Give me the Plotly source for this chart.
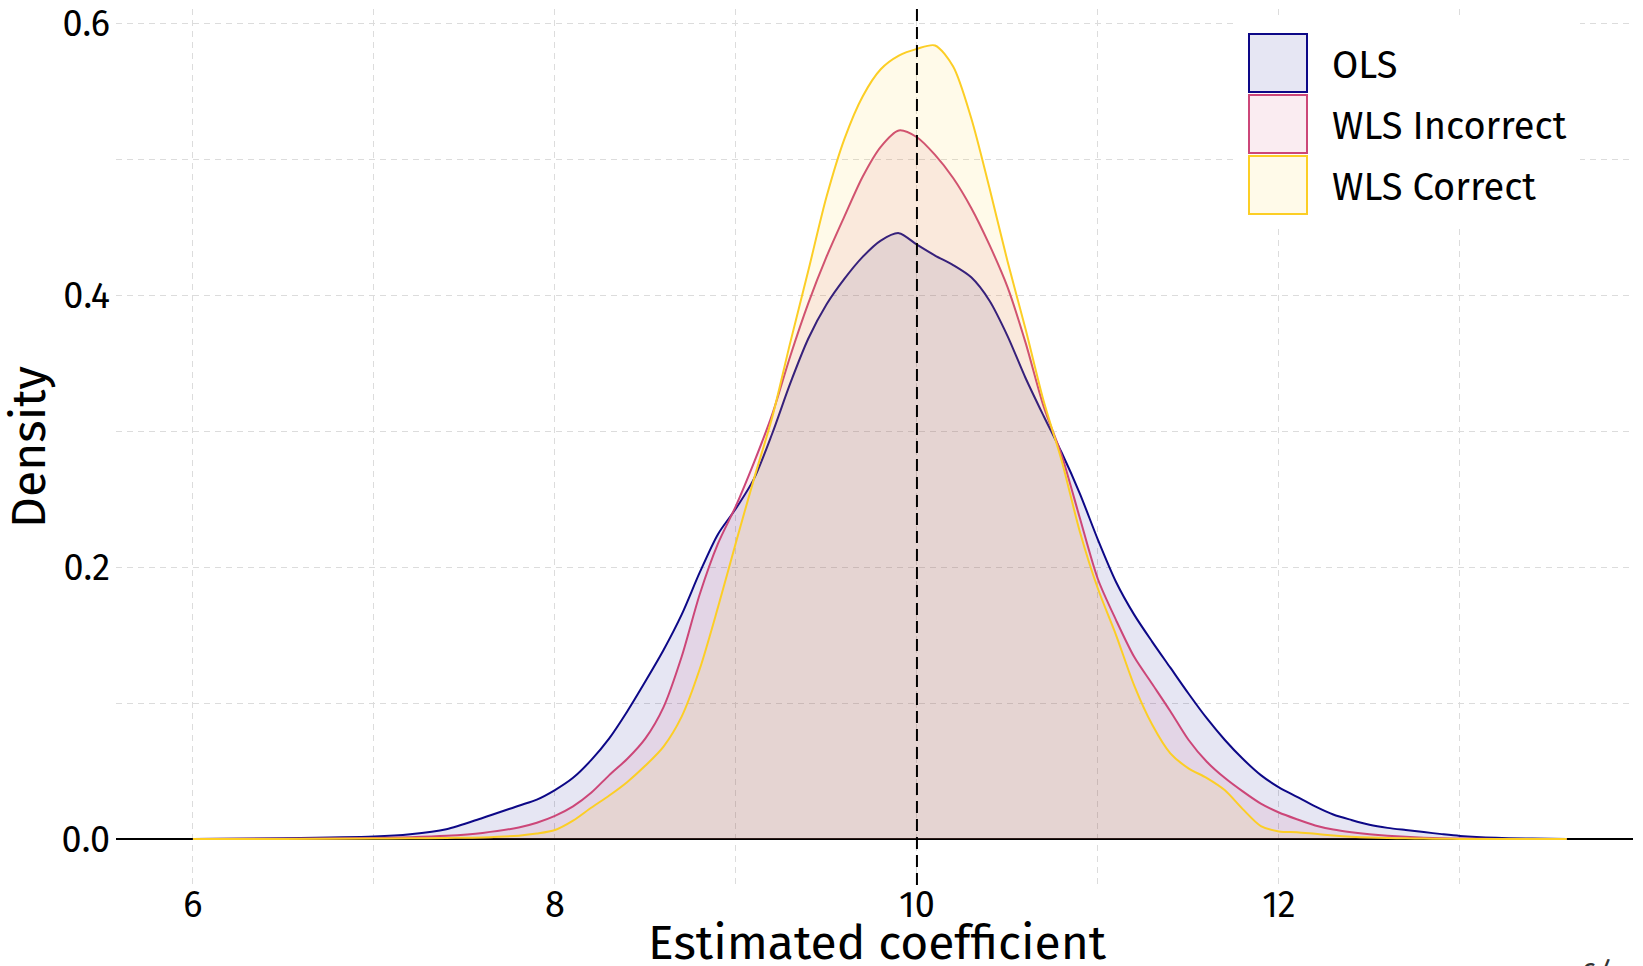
import plotly.graph_objects as go

# ---------------- data ----------------
X_GRID = [6.0, 6.5, 7.0, 7.2, 7.4, 7.6, 7.8, 7.9,
          8.0, 8.1, 8.2, 8.3, 8.4, 8.5, 8.6, 8.7, 8.8, 8.9,
          9.0, 9.1, 9.2, 9.3, 9.4, 9.5, 9.6, 9.7, 9.8, 9.9,
          10.0, 10.1, 10.2, 10.3, 10.4, 10.5, 10.6, 10.7, 10.8, 10.9,
          11.0, 11.1, 11.2, 11.3, 11.4, 11.5, 11.6, 11.7, 11.8, 11.9,
          12.0, 12.1, 12.2, 12.3, 12.4, 12.5, 12.6, 12.7, 12.8, 12.9,
          13.0, 13.2, 13.4, 13.59]

OLS = [0.0, 0.0005, 0.0018, 0.0035, 0.0072, 0.0155, 0.0245, 0.029,
       0.036, 0.045, 0.058, 0.074, 0.094, 0.116, 0.139, 0.165, 0.196, 0.224,
       0.243, 0.265, 0.298, 0.335, 0.368, 0.393, 0.412, 0.428, 0.440, 0.4455,
       0.437, 0.429, 0.422, 0.413, 0.396, 0.370, 0.339, 0.311, 0.284, 0.254,
       0.220, 0.189, 0.165, 0.145, 0.126, 0.107, 0.089, 0.073, 0.059, 0.047,
       0.038, 0.031, 0.024, 0.018, 0.014, 0.0105, 0.0082, 0.0066, 0.0051, 0.0036,
       0.0023, 0.0009, 0.0003, 0.0001]

WLS_INCORRECT = [0.0, 0.0002, 0.0007, 0.0013, 0.0024, 0.0045, 0.0085, 0.012,
                 0.017, 0.024, 0.034, 0.047, 0.059, 0.074, 0.097, 0.134, 0.180, 0.217,
                 0.245, 0.277, 0.312, 0.355, 0.394, 0.428, 0.458, 0.487, 0.509, 0.521,
                 0.516, 0.503, 0.486, 0.464, 0.437, 0.406, 0.365, 0.318, 0.282, 0.236,
                 0.191, 0.161, 0.134, 0.114, 0.094, 0.073, 0.057, 0.045, 0.035, 0.026,
                 0.0195, 0.0145, 0.010, 0.007, 0.005, 0.0035, 0.0024, 0.0016, 0.001, 0.0006,
                 0.0003, 0.0001, 0.00005, 0.0]

WLS_CORRECT = [0.0, 0.0001, 0.0003, 0.0005, 0.0008, 0.0012, 0.0025, 0.004,
               0.0066, 0.0135, 0.023, 0.032, 0.042, 0.054, 0.068, 0.090, 0.125, 0.170,
               0.218, 0.265, 0.310, 0.365, 0.418, 0.472, 0.515, 0.546, 0.566, 0.576,
               0.581, 0.5835, 0.568, 0.530, 0.479, 0.425, 0.375, 0.322, 0.278, 0.226,
               0.184, 0.150, 0.113, 0.084, 0.063, 0.052, 0.045, 0.036, 0.022, 0.0095,
               0.0056, 0.005, 0.0038, 0.0026, 0.0017, 0.0011, 0.0007, 0.0005, 0.0003, 0.0002,
               0.0001, 0.00005, 0.0, 0.0]

SERIES_NAMES = ["OLS", "WLS Incorrect", "WLS Correct"]
SERIES_VALUES = [OLS, WLS_INCORRECT, WLS_CORRECT]
SERIES_COLORS = ["#0D0887", "#CC4678", "#FCCE25"]

TRUE_BETA = 10

X_TICKS = [6, 8, 10, 12]
X_MINOR = [7, 9, 11, 13]
Y_TICKS = [0.0, 0.2, 0.4, 0.6]
Y_TICK_TEXT = ["0.0", "0.2", "0.4", "0.6"]
Y_MINOR = [0.1, 0.3, 0.5]

X_TITLE = "Estimated coefficient"
Y_TITLE = "Density"
CAPTION = "6/"

# ---------------- styling ----------------
W, H = 1643, 966
M_L, M_R, M_T, M_B = 116, 10, 9, 81
FONT = "Fira Sans, Noto Sans, Open Sans, sans-serif"
GRID = "#DCDCDC"
ALPHA = 0.1


def rgba(hex_color, a):
    h = hex_color.lstrip("#")
    r, g, b = int(h[0:2], 16), int(h[2:4], 16), int(h[4:6], 16)
    return f"rgba({r},{g},{b},{a})"


PLOT_W = W - M_L - M_R
PLOT_H = H - M_T - M_B


def px_x(px):
    return (px - M_L) / PLOT_W


def px_y(py):
    return (H - M_B - py) / PLOT_H


fig = go.Figure()
for name, vals, col in zip(SERIES_NAMES, SERIES_VALUES, SERIES_COLORS):
    fig.add_trace(go.Scatter(
        x=X_GRID, y=vals, name=name, mode="lines",
        line=dict(color=col, width=2, shape="spline", smoothing=0.8),
        fill="tozeroy", fillcolor=rgba(col, ALPHA),
        showlegend=False, hoverinfo="skip",
    ))

fig.add_vline(x=TRUE_BETA, line=dict(color="black", width=2, dash="12px,6px"), layer="above")

# legend (drawn manually to get the large square keys)
shapes = [dict(type="rect", xref="paper", yref="paper",
               x0=px_x(1236), x1=px_x(1580), y0=px_y(228), y1=px_y(20),
               fillcolor="white", line=dict(width=0), layer="above")]
annotations = []
for i, (name, col) in enumerate(zip(SERIES_NAMES, SERIES_COLORS)):
    top = 34 + 61 * i
    shapes.append(dict(type="rect", xref="paper", yref="paper",
                       x0=px_x(1249), x1=px_x(1307), y0=px_y(top + 58), y1=px_y(top),
                       fillcolor=rgba(col, ALPHA), line=dict(color=col, width=2), layer="above"))
    annotations.append(dict(xref="paper", yref="paper", x=px_x(1330), y=px_y(top + 31),
                            xanchor="left", yanchor="middle", text=name, showarrow=False,
                            font=dict(family=FONT, size=38, color="black")))

# x-axis title (as annotation for exact placement)
annotations.append(dict(xref="paper", yref="paper", x=px_x(877), y=px_y(943),
                        xanchor="center", yanchor="middle", text=X_TITLE, showarrow=False,
                        font=dict(family=FONT, size=48, color="black")))

annotations.append(dict(xref="paper", yref="paper", x=px_x(1578), y=px_y(953),
                        xanchor="left", yanchor="top", text=f"<i>{CAPTION}</i>", showarrow=False,
                        font=dict(family=FONT, size=30, color="#333333")))

axis_common = dict(
    showgrid=True, gridcolor=GRID, gridwidth=1.3, griddash="6px,5px",
    showline=False, ticks="", tickfont=dict(family=FONT, size=36, color="black"),
)

fig.update_layout(
    width=W, height=H,
    margin=dict(l=M_L, r=M_R, t=M_T, b=M_B, autoexpand=False),
    paper_bgcolor="white", plot_bgcolor="white",
    font=dict(family=FONT, color="black"),
    shapes=list(fig.layout.shapes) + shapes,
    annotations=annotations,
    xaxis=dict(
        range=[5.575, 13.956], tickvals=X_TICKS, ticktext=[str(v) for v in X_TICKS],
        zeroline=False, ticklabelstandoff=-5,
        minor=dict(tickvals=X_MINOR, showgrid=True, gridcolor=GRID, gridwidth=1.3, griddash="6px,5px"),
        **axis_common,
    ),
    yaxis=dict(
        range=[-0.0338, 0.6103], tickvals=Y_TICKS, ticktext=Y_TICK_TEXT,
        zeroline=True, zerolinecolor="black", zerolinewidth=2.2, ticklabelstandoff=5,
        minor=dict(tickvals=Y_MINOR, showgrid=True, gridcolor=GRID, gridwidth=1.3, griddash="6px,5px"),
        title=dict(text=Y_TITLE, font=dict(family=FONT, size=48, color="black"), standoff=0),
        **axis_common,
    ),
)

fig.write_html("out.html", config={"displayModeBar": False},
               post_script="document.body.style.margin='0';document.body.style.overflow='hidden';")
